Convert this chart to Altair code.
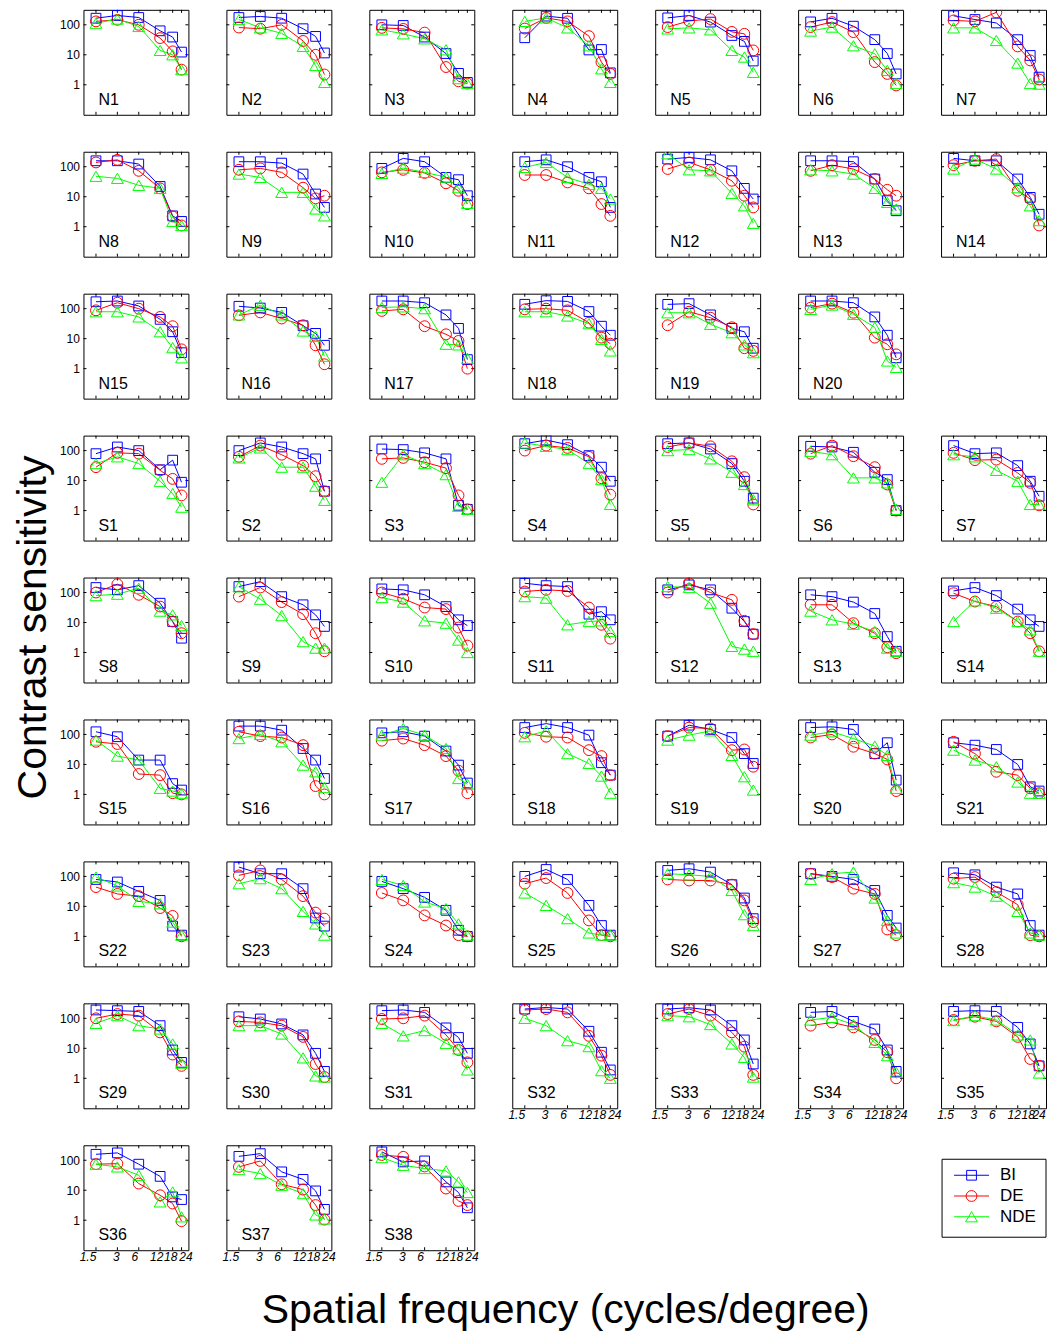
import altair as alt
import pandas as pd

FREQS = [1.5, 3, 6, 12, 18, 24]
TICK_LABELS = ["1.5", "3", "6", "12", "18", "24"]
SERIES = ["BI", "DE", "NDE"]
COLORS = ["#0000ff", "#ff0000", "#00ff00"]
SHAPES = ["square", "circle", "triangle-up"]
Y_TICKS = [1, 10, 100]

N_NAMES = [f"N{i}" for i in range(1, 21)]
S_NAMES = [f"S{i}" for i in range(1, 39)]

BI = {
    "N1": [166, 205, 175, 63, 39, 12.3], "N2": [175, 190, 166, 74, 41, 11.5],
    "N3": [100, 95, 39, 11, 2.4, 1.2], "N4": [37, 195, 165, 14.5, 15, 2.5],
    "N5": [170, 204, 123, 44, 28, 6.2], "N6": [125, 165, 90, 32, 11, 2.3],
    "N7": [200, 150, 115, 32, 9.5, 1.8], "N8": [158, 158, 123, 22, 2.3, 1.5],
    "N9": [147, 147, 132, 57, 12.3, 4.4], "N10": [88, 190, 147, 44, 37, 10.8],
    "N11": [147, 170, 100, 44, 31.6, 4.4], "N12": [180, 204, 170, 73, 19, 8.4],
    "N13": [158, 158, 147, 39, 7.4, 3.4], "N14": [190, 158, 158, 39, 9.5, 2.6],
    "N15": [170, 180, 123, 44, 17, 3.4], "N16": [120, 105, 75, 27, 15, 6],
    "N17": [180, 180, 158, 62, 22, 2], "N18": [140, 185, 175, 80, 26, 13],
    "N19": [139, 147, 62, 22, 17, 4.8], "N20": [180, 180, 158, 53, 13, 2.3],
    "S1": [79, 132, 100, 23, 48, 8.8], "S2": [100, 180, 132, 79, 53, 4.4],
    "S3": [113, 108, 84, 53, 1.5, 1.1], "S4": [170, 225, 158, 68, 28, 9.5],
    "S5": [170, 180, 113, 37, 9.5, 2.6], "S6": [139, 132, 88, 19, 10.8, 1.0],
    "S7": [147, 79, 84, 31.6, 9.5, 3], "S8": [147, 123, 170, 44, 10.8, 3],
    "S9": [158, 230, 73, 39, 18, 7.4], "S10": [132, 123, 84, 34, 12.3, 7.9],
    "S11": [204, 170, 158, 19, 23, 12.3], "S12": [123, 180, 123, 30, 10.8, 4.1],
    "S13": [84, 73, 48, 20, 3.4, 1.1], "S14": [113, 147, 79, 28, 12.3, 7.4],
    "S15": [123, 84, 14, 14, 2.3, 1.4], "S16": [190, 190, 139, 34, 14, 3.4],
    "S17": [113, 123, 88, 28, 9.5, 2.4], "S18": [170, 230, 170, 95, 11.4, 4.4],
    "S19": [88, 204, 147, 79, 23, 10.8], "S20": [170, 180, 147, 23, 53, 3],
    "S21": [53, 44, 31.6, 10, 1.8, 1.3], "S22": [79, 65, 31.6, 15.8, 2.2, 1.1],
    "S23": [204, 123, 123, 39, 4.1, 2.2], "S24": [68, 39, 20, 7.4, 1.6, 1.0],
    "S25": [100, 170, 79, 10.8, 2.3, 1.1], "S26": [158, 180, 139, 53, 19, 3.9],
    "S27": [123, 100, 79, 34, 5, 1.9], "S28": [132, 113, 44, 26, 2.3, 1.1],
    "S29": [190, 180, 170, 57, 8.8, 3.4], "S30": [113, 95, 65, 28, 6.8, 1.7],
    "S31": [180, 190, 158, 48, 23, 6.8], "S32": [204, 230, 204, 37, 7.4, 1.9],
    "S33": [204, 225, 190, 57, 19, 3], "S34": [158, 170, 79, 44, 8.8, 1.7],
    "S35": [170, 180, 170, 50, 14, 2.6], "S36": [158, 176, 74, 29, 6, 4.9],
    "S37": [135, 166, 41, 23, 9.5, 2.3], "S38": [190, 88, 95, 19, 8.4, 2.6],
}

DE = {
    "N1": [130, 147, 100, 36, 13, 3.2], "N2": [81, 74, 100, 29, 10, 2.2],
    "N3": [79, 73, 55, 3.9, 1.3, 1.1], "N4": [75, 170, 130, 42, 5.7, 2.3],
    "N5": [84, 135, 155, 58, 50, 14], "N6": [84, 123, 57, 5.7, 2.3, 0.95],
    "N7": [140, 130, 260, 19, 6.5, 1.5], "N8": [139, 170, 73, 19, 2.2, 1.1],
    "N9": [79, 88, 65, 20, 8.8, 10.8], "N10": [65, 79, 62, 28, 15.8, 5.7],
    "N11": [53, 53, 30, 19, 5.7, 2.3], "N12": [84, 139, 79, 34, 10.8, 4.4],
    "N13": [73, 113, 84, 39, 17, 10.8], "N14": [113, 158, 180, 15.8, 8.4, 1.1],
    "N15": [88, 158, 100, 53, 26, 4.4], "N16": [60, 75, 47, 28, 6, 1.4],
    "N17": [84, 95, 26, 14, 8.4, 1.0], "N18": [95, 100, 88, 34, 10.8, 6.8],
    "N19": [28, 79, 50, 24, 4.8, 3.9], "N20": [108, 147, 73, 10.8, 6.5, 3],
    "S1": [28, 84, 79, 22, 11.4, 3.2], "S2": [62, 147, 73, 31.6, 14, 4.4],
    "S3": [53, 57, 41, 26, 3.2, 1.1], "S4": [100, 147, 123, 62, 12, 3.4],
    "S5": [132, 180, 139, 44, 13, 1.6], "S6": [79, 147, 65, 28, 7.4, 1.0],
    "S7": [84, 48, 50, 18, 8.4, 1.5], "S8": [100, 190, 84, 34, 10.8, 4.4],
    "S9": [73, 147, 48, 19, 4.4, 1.1], "S10": [100, 62, 31.6, 28, 6.8, 1.7],
    "S11": [108, 123, 113, 31.6, 8.4, 2.9], "S12": [100, 204, 100, 57, 11.4, 4.1],
    "S13": [39, 39, 9.5, 4.4, 1.5, 0.95], "S14": [95, 50, 34, 10.8, 4.4, 1.1],
    "S15": [57, 48, 4.8, 4.4, 1.1, 1.0], "S16": [123, 88, 79, 44, 1.9, 1.0],
    "S17": [62, 73, 44, 19, 6.2, 1.1], "S18": [113, 84, 79, 30, 19, 4.4],
    "S19": [88, 170, 158, 30, 31.6, 8.4], "S20": [79, 100, 39, 23, 14.7, 1.3],
    "S21": [57, 23, 5.7, 4.4, 1.6, 1.1], "S22": [44, 26, 22, 8.8, 4.8, 1.0],
    "S23": [108, 158, 79, 22, 6.2, 3.9], "S24": [28, 15.8, 5, 2.3, 1.1, 1.0],
    "S25": [57, 88, 28, 3.4, 1.1, 1.0], "S26": [79, 73, 73, 53, 15.8, 3],
    "S27": [123, 95, 39, 26, 1.7, 1.1], "S28": [84, 95, 30, 11.4, 1.1, 1.0],
    "S29": [100, 139, 123, 34, 6.2, 2.6], "S30": [79, 73, 57, 24, 3, 1.1],
    "S31": [95, 100, 123, 28, 8.8, 3.4], "S32": [190, 204, 158, 26, 5.7, 1.3],
    "S33": [139, 204, 123, 34, 11.4, 1.3], "S34": [57, 73, 50, 19, 7.4, 1.0],
    "S35": [88, 113, 79, 24, 4.4, 2.6], "S36": [74, 77, 16.7, 6.8, 3.6, 0.93],
    "S37": [60, 95, 15.8, 10.5, 3.2, 1.05], "S38": [150, 130, 62, 11.4, 4.4, 3.2],
}

NDE = {
    "N1": [113, 155, 88, 14, 10, 3.2], "N2": [150, 80, 52, 19, 4.4, 1.2],
    "N3": [68, 50, 34, 14.7, 1.6, 1.1], "N4": [130, 170, 79, 20, 3.4, 1.2],
    "N5": [73, 79, 68, 14, 8.4, 2.6], "N6": [62, 84, 20, 10.8, 3, 1.1],
    "N7": [79, 79, 30, 5.3, 1.1, 1.05], "N8": [48, 41, 24, 19, 1.5, 1.1],
    "N9": [57, 44, 14, 14, 3.9, 2.3], "N10": [60, 90, 65, 45, 20, 6],
    "N11": [95, 139, 44, 26, 19, 8.4], "N12": [270, 79, 73, 13, 5, 1.3],
    "N13": [79, 73, 57, 19, 6.5, 3.9], "N14": [84, 180, 84, 20, 5, 1.6],
    "N15": [79, 79, 53, 17, 5, 2.3], "N16": [62, 130, 62, 18, 12, 2.6],
    "N17": [110, 115, 100, 6.5, 6.2, 2.2], "N18": [79, 79, 57, 31.6, 9.5, 3.9],
    "N19": [73, 73, 30, 15.8, 6.2, 3.4], "N20": [95, 132, 65, 24, 1.8, 1.1],
    "S1": [37, 62, 37, 9.5, 3.7, 1.3], "S2": [57, 123, 28, 28, 6.5, 2.2],
    "S3": [8.8, 73, 37, 15.8, 1.4, 1.1], "S4": [180, 139, 108, 37, 10.8, 1.6],
    "S5": [100, 108, 53, 19, 7.4, 2.3], "S6": [95, 73, 12.3, 12.3, 8.4, 1.1],
    "S7": [73, 62, 22, 9.5, 1.6, 1.6], "S8": [79, 88, 139, 24, 18, 7.9],
    "S9": [155, 60, 17, 2.3, 1.4, 1.4], "S10": [68, 48, 11.4, 9.5, 2.6, 1.0],
    "S11": [73, 65, 8.4, 10.8, 11.4, 5], "S12": [158, 147, 44, 1.6, 1.3, 1.1],
    "S13": [24, 12.3, 8.8, 5, 1.4, 1.1], "S14": [10.8, 53, 30, 10.8, 5.7, 1.1],
    "S15": [65, 19, 14, 1.6, 1.3, 1.1], "S16": [73, 100, 57, 9.5, 5.7, 1.7],
    "S17": [95, 158, 95, 34, 3.4, 2.2], "S18": [84, 132, 23, 10.8, 4.1, 1.1],
    "S19": [65, 95, 132, 20, 3.9, 1.4], "S20": [95, 123, 73, 41, 20, 1.6],
    "S21": [30, 14, 8.4, 2.6, 1.1, 1.1], "S22": [95, 48, 14.7, 12.3, 3, 1.1],
    "S23": [57, 84, 39, 6.8, 2.6, 1.1], "S24": [79, 50, 14, 8.4, 2.6, 1.1],
    "S25": [28, 10.8, 3.9, 1.3, 1.1, 1.1], "S26": [123, 113, 100, 34, 5.3, 2.3],
    "S27": [79, 123, 139, 19, 3.4, 1.3], "S28": [62, 44, 22, 6.8, 1.3, 1.1],
    "S29": [68, 123, 57, 44, 14, 3.2], "S30": [57, 57, 30, 4.8, 1.2, 1.1],
    "S31": [68, 26, 39, 14.7, 9.5, 1.9], "S32": [100, 57, 18, 11.4, 1.8, 1.0],
    "S33": [123, 113, 62, 14, 5, 1.1], "S34": [88, 108, 62, 15.8, 5.7, 1.6],
    "S35": [84, 123, 88, 28, 19, 1.5], "S36": [74, 60, 31.6, 4.1, 8.8, 1.3],
    "S37": [49, 36, 14.7, 7.7, 1.5, 1.1], "S38": [123, 68, 53, 44, 19, 8.4],
}

Y_TITLE = "Contrast sensitivity"
X_TITLE = "Spatial frequency (cycles/degree)"

FONT = "Liberation Sans"
W = H = 105
COL_GAP = 38
ROW_GAP = 37
ROW_STEP = H + ROW_GAP
TOP = 8.5
TK = 3
# per-label horizontal nudges of the x tick labels (styling, in pixels)
LABEL_DX = [-8, -1, -4, -3.5, -2, 4.5]
LABEL_DX_LASTCOL = [-8, -1, -4, -3.5, -2, 0]

xscale = alt.Scale(type="log", domain=[1, 30], nice=False)
yscale = alt.Scale(type="log", domain=[0.1, 316], nice=False)
cscale = alt.Scale(domain=SERIES, range=COLORS)
shscale = alt.Scale(domain=SERIES, range=SHAPES)
szscale = alt.Scale(domain=SERIES, range=[95, 140, 115])

ytick_df = pd.DataFrame({"v": Y_TICKS})
xtick_df = pd.DataFrame({"f": FREQS})


def y_axis(show):
    if not show:
        return None
    return alt.Axis(values=Y_TICKS, format="d", title=None, ticks=False, domain=False,
                    grid=False, labelFont=FONT, labelFontSize=12, labelPadding=4,
                    labelOverlap=False, labelFlush=False, labelColor="black")


def panel(name, show_x, show_y, last_col=False, extra=None):
    rows = []
    for s, d in zip(SERIES, (BI, DE, NDE)):
        for f, v in zip(FREQS, d[name]):
            rows.append({"freq": f, "cs": v, "series": s})
    df = pd.DataFrame(rows)
    ya = y_axis(show_y)
    X = alt.X("freq:Q", scale=xscale, axis=None)
    Y = alt.Y("cs:Q", scale=yscale, axis=ya)
    base = alt.Chart(df)
    lines = base.mark_line(strokeWidth=1).encode(
        x=X, y=Y,
        color=alt.Color("series:N", scale=cscale, legend=None),
        detail="series:N")
    pts = base.mark_point(filled=False, strokeWidth=1, opacity=1, clip=True).encode(
        x=X, y=Y,
        color=alt.Color("series:N", scale=cscale, legend=None),
        shape=alt.Shape("series:N", scale=shscale, legend=None),
        size=alt.Size("series:N", scale=szscale, legend=None))
    lt = alt.Chart(ytick_df).mark_rule(color="black", strokeWidth=1).encode(
        y=alt.Y("v:Q", scale=yscale, axis=ya), x=alt.value(0), x2=alt.value(TK))
    rt = alt.Chart(ytick_df).mark_rule(color="black", strokeWidth=1).encode(
        y=alt.Y("v:Q", scale=yscale, axis=ya), x=alt.value(W - TK), x2=alt.value(W))
    bt = alt.Chart(xtick_df).mark_rule(color="black", strokeWidth=1).encode(
        x=alt.X("f:Q", scale=xscale, axis=None), y=alt.value(H - TK), y2=alt.value(H))
    tt = alt.Chart(xtick_df).mark_rule(color="black", strokeWidth=1).encode(
        x=alt.X("f:Q", scale=xscale, axis=None), y=alt.value(0), y2=alt.value(TK))
    lab = alt.Chart(pd.DataFrame({"lab": [name]})).mark_text(
        align="left", baseline="alphabetic", fontSize=16, font=FONT, color="black",
        x=15, y=95).encode(text="lab:N")
    layers = [lt, rt, bt, tt, lines, pts, lab]
    if show_x:
        dxs = LABEL_DX_LASTCOL if last_col else LABEL_DX
        for f, t, dx in zip(FREQS, TICK_LABELS, dxs):
            layers.append(
                alt.Chart(pd.DataFrame({"f": [f], "t": [t]})).mark_text(
                    align="center", baseline="top", fontSize=12, font=FONT,
                    fontStyle="italic", color="black", dx=dx, y=H + 2
                ).encode(x=alt.X("f:Q", scale=xscale, axis=None), text="t:N"))
    if extra is not None:
        layers.append(extra)
    return alt.layer(*layers).properties(width=W, height=H)


def blank(text=None, **kw):
    ch = alt.Chart(pd.DataFrame({"t": [text or ""]}))
    if text:
        ch = ch.mark_text(fontSize=41, font=FONT, color="black", align="center",
                          baseline="alphabetic", **kw).encode(text="t:N")
    else:
        ch = ch.mark_text().encode(text="t:N")
    return ch.properties(width=W, height=H, view=alt.ViewBackground(stroke="transparent"))


def legend_panel():
    ldf = pd.DataFrame({"series": SERIES})
    ly = alt.Y("series:N", scale=alt.Scale(type="point", domain=SERIES,
                                           range=[30, 71.5], padding=0), axis=None)
    col = alt.Color("series:N", scale=cscale, legend=None)
    box = alt.Chart(pd.DataFrame({"a": [0]})).mark_rect(
        fill="white", stroke="black", strokeWidth=1).encode(
        x=alt.value(1), x2=alt.value(105), y=alt.value(14), y2=alt.value(92))
    rl = alt.Chart(ldf).mark_rule(strokeWidth=1).encode(
        y=ly, x=alt.value(13), x2=alt.value(48), color=col)
    pt = alt.Chart(ldf).mark_point(filled=False, strokeWidth=1, opacity=1).encode(
        y=ly, x=alt.value(30.5), color=col,
        shape=alt.Shape("series:N", scale=shscale, legend=None),
        size=alt.Size("series:N", scale=alt.Scale(domain=SERIES, range=[64, 90, 80]),
                      legend=None))
    tx = alt.Chart(ldf).mark_text(align="left", baseline="middle", fontSize=17,
                                  font=FONT, color="black").encode(
        y=ly, x=alt.value(59), text="series:N")
    return alt.layer(box, rl, pt, tx).properties(
        width=W, height=H, view=alt.ViewBackground(stroke="transparent"))


grid_names = [
    N_NAMES[0:7], N_NAMES[7:14], N_NAMES[14:20] + [None],
    S_NAMES[0:7], S_NAMES[7:14], S_NAMES[14:21], S_NAMES[21:28], S_NAMES[28:35],
    S_NAMES[35:38] + ["XTITLE", None, None, "LEGEND"],
]
x_label_panels = set(S_NAMES[31:38])

ytitle_layer = alt.Chart(pd.DataFrame({"t": [Y_TITLE]})).mark_text(
    angle=270, align="center", baseline="alphabetic", fontSize=41, font=FONT,
    color="black", x=-37, y=50).encode(text="t:N")

charts = []
for r, row in enumerate(grid_names):
    for c, name in enumerate(row):
        if name is None:
            charts.append(blank())
        elif name == "XTITLE":
            charts.append(blank(X_TITLE, x=W / 2 + 1, y=1322 - (TOP + 8 * ROW_STEP)))
        elif name == "LEGEND":
            charts.append(legend_panel())
        else:
            extra = ytitle_layer if name == "S8" else None
            charts.append(panel(name, name in x_label_panels, c == 0, c == 6, extra))

chart = alt.concat(
    *charts, columns=7, spacing={"row": ROW_GAP, "column": COL_GAP}, bounds="flush"
).properties(
    padding={"left": 4.5, "top": 0.5, "right": 0, "bottom": 0},
    background="white",
).configure_view(
    stroke="black", strokeWidth=1
)

chart.save("out.html", embed_options={"renderer": "svg", "actions": False})
